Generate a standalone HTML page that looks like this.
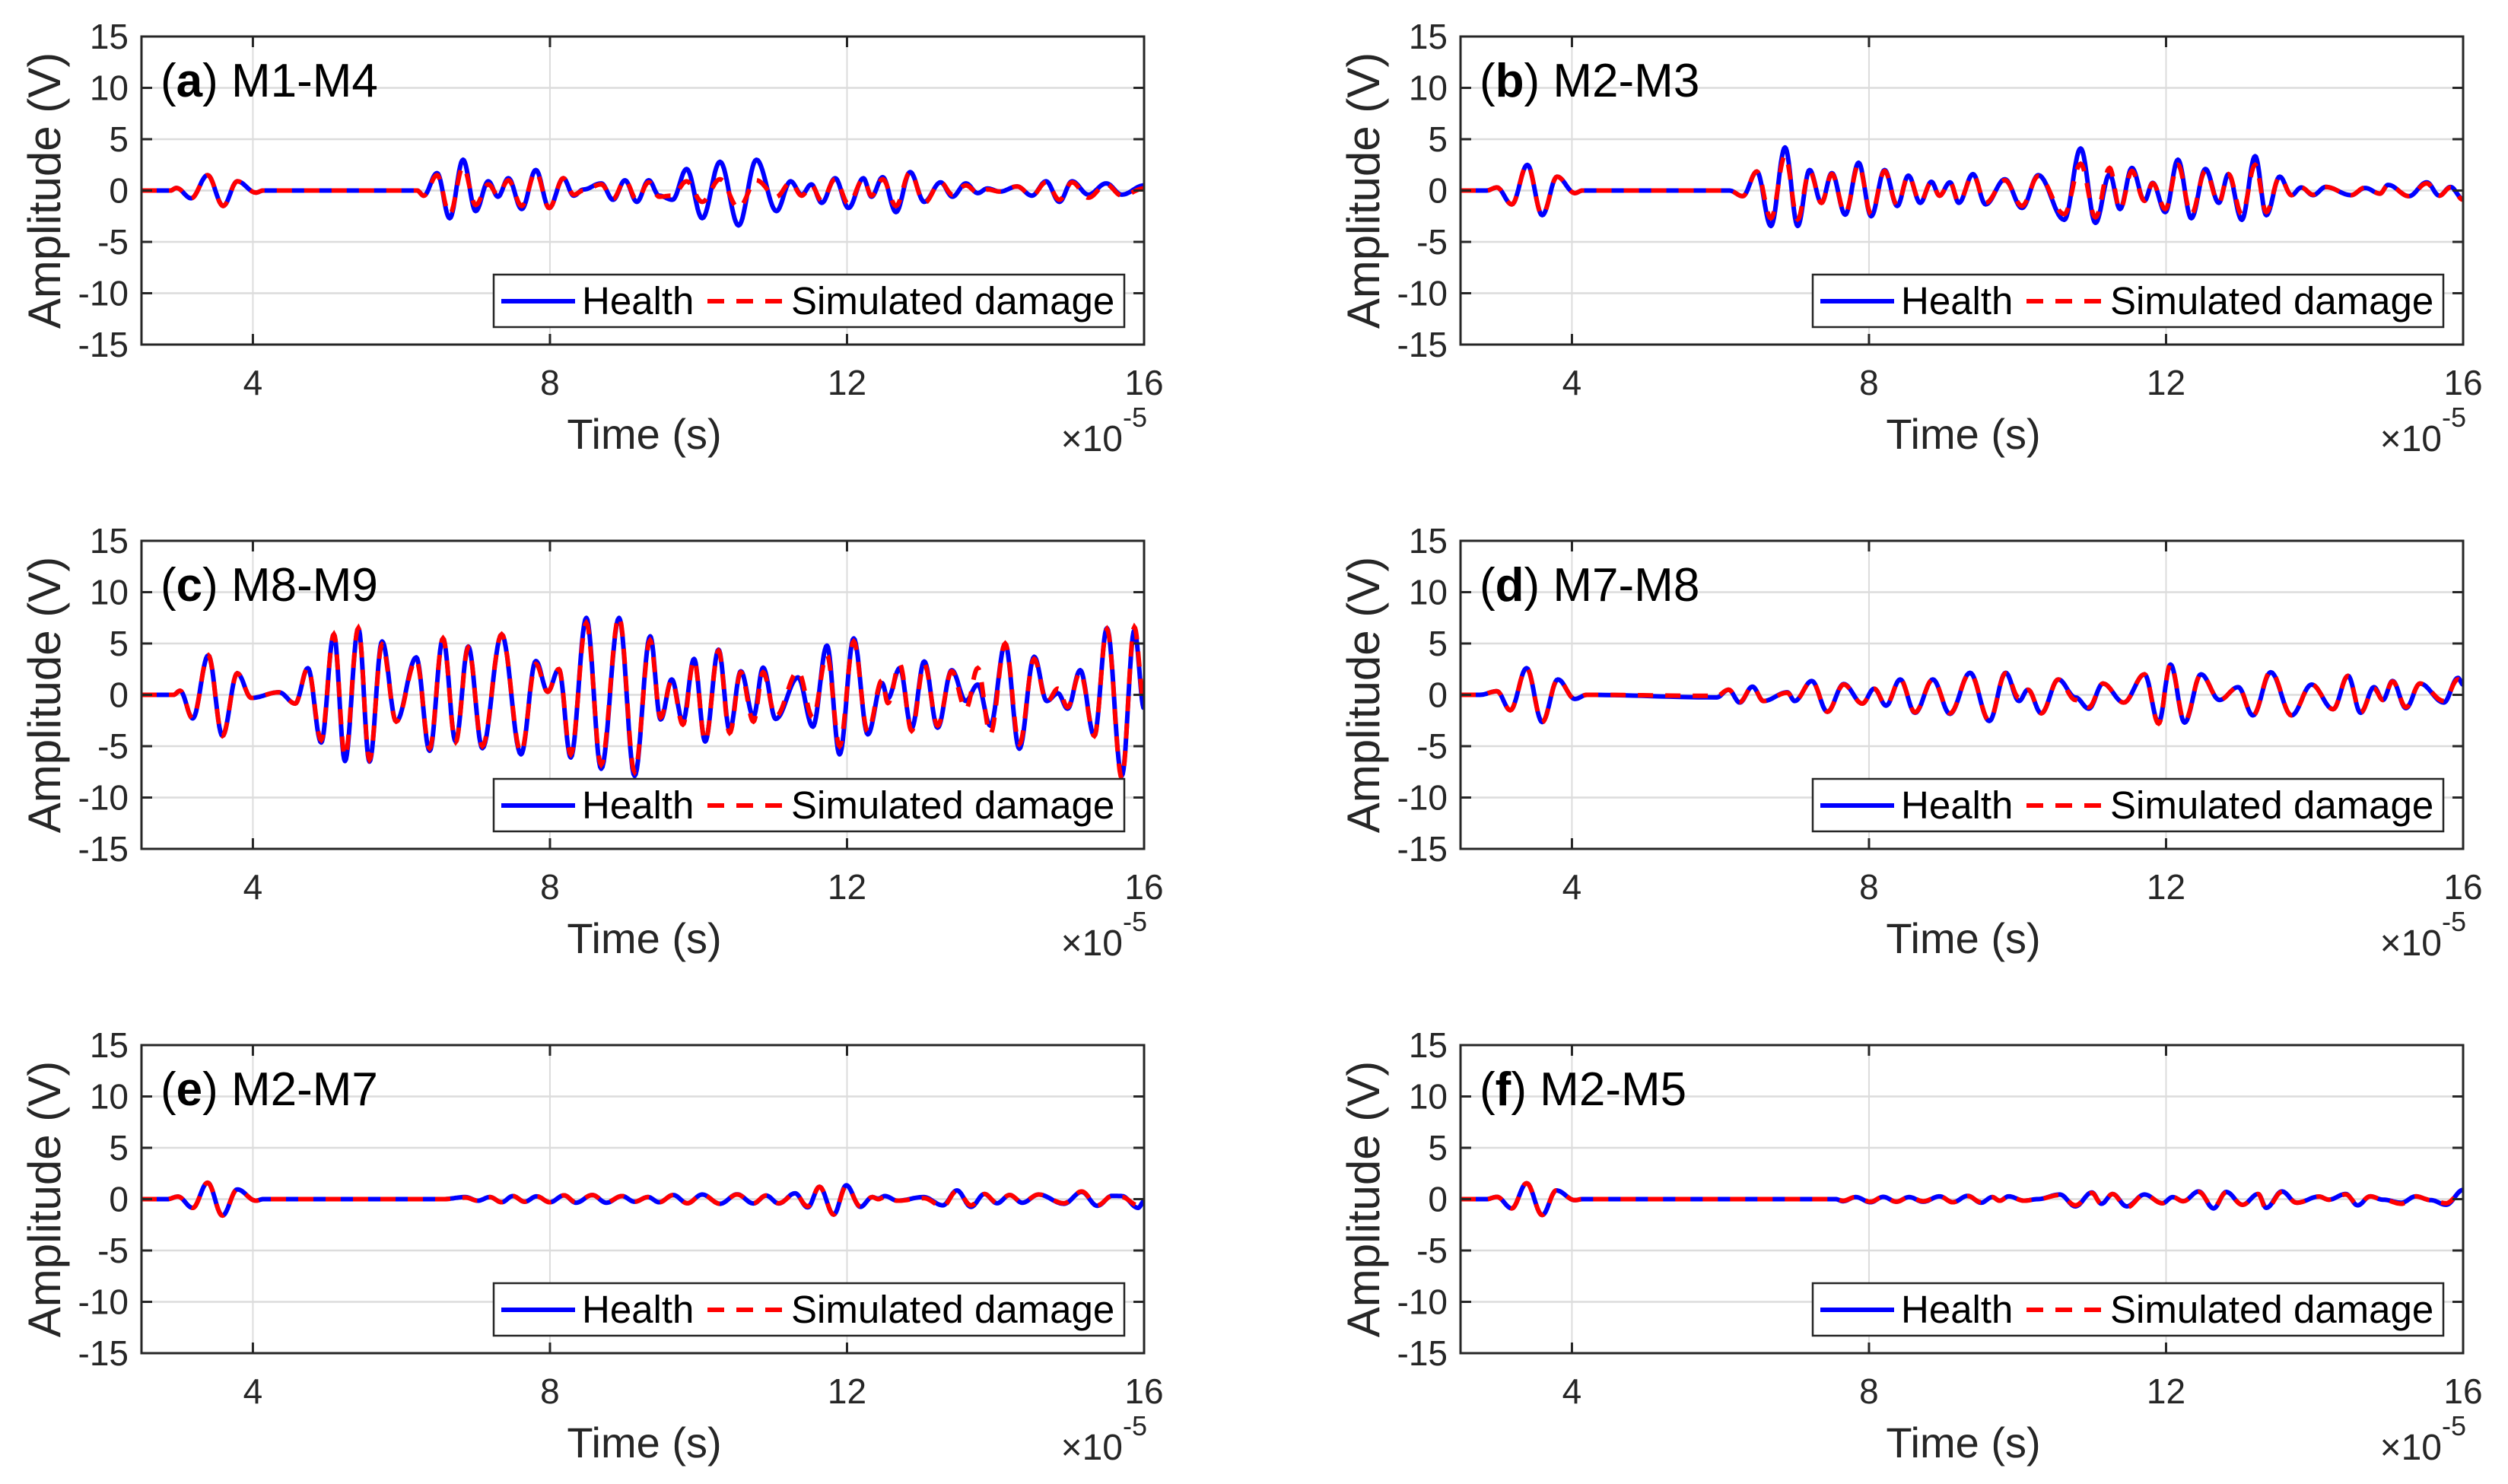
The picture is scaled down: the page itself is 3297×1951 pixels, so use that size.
<!DOCTYPE html>
<html><head><meta charset="utf-8"><style>
html,body{margin:0;padding:0;background:#fff;}
svg{display:block;font-family:"Liberation Sans",Arial,sans-serif;}
</style></head><body>
<svg id="fig" xmlns="http://www.w3.org/2000/svg" width="3297" height="1951" viewBox="0 0 3297 1951">
<rect x="0" y="0" width="3297" height="1951" fill="#fff"/>
</svg>
<script>
// ---- data (time in units of 1e-5 s, amplitude in V) ----
const panelLabels = ["a","b","c","d","e","f"];
const panelNames = ["M1-M4","M2-M3","M8-M9","M7-M8","M2-M7","M2-M5"];
const yTicks = [15,10,5,0,-5,-10,-15];
const xTicks = [4,8,12,16];
const legendLabels = ["Health","Simulated damage"];

const tA=[2.5,2.89,2.97,3.17,3.39,3.60,3.79,4.04,4.14,6.21,6.30,6.48,6.65,6.83,7.00,7.17,7.30,7.44,7.62,7.81,7.99,8.18,8.32,8.45,8.69,8.85,9.01,9.17,9.33,9.47,9.65,9.84,10.05,10.29,10.54,10.78,11.05,11.24,11.39,11.52,11.66,11.84,12.02,12.22,12.33,12.48,12.66,12.85,13.04,13.26,13.42,13.60,13.76,13.89,14.06,14.29,14.49,14.68,14.86,15.03,15.25,15.49,15.70,16.0];
const hA=[0,0,0.25,-0.75,1.5,-1.5,0.9,-0.2,0,0,-0.5,1.7,-2.7,3.0,-2.0,0.9,-0.6,1.2,-1.8,2.0,-1.7,1.2,-0.5,0.1,0.7,-0.9,1.0,-1.1,1.0,-0.5,-0.9,2.1,-2.7,2.8,-3.4,3.0,-2.0,0.9,-0.4,0.6,-1.2,1.2,-1.7,1.2,-0.6,1.3,-2.1,1.8,-1.1,0.8,-0.6,0.7,-0.25,0.2,-0.1,0.4,-0.5,0.9,-1.1,0.9,-0.4,0.7,-0.4,0.5];
const dA=[0,0,0.25,-0.75,1.5,-1.5,0.9,-0.2,0,0,-0.5,1.5,-2.3,2.3,-1.4,0.6,-0.4,1.0,-1.5,1.8,-1.7,1.2,-0.4,0,0.6,-0.8,1.0,-0.9,0.8,-0.6,-0.5,0.9,-1.1,1.1,-1.7,1.0,-0.6,0.8,-0.5,0.5,-1.0,1.1,-1.3,1.1,-0.5,1.1,-1.5,1.8,-1.2,0.8,-0.4,0.5,-0.2,0.1,-0.1,0.4,-0.5,0.8,-0.9,0.8,-0.7,0.6,-0.5,0.2];

const tB=[2.5,2.85,2.99,3.19,3.40,3.60,3.80,4.04,4.14,6.12,6.30,6.49,6.68,6.87,7.04,7.20,7.36,7.50,7.68,7.86,8.03,8.21,8.38,8.53,8.69,8.84,8.95,9.09,9.21,9.40,9.57,9.83,10.06,10.28,10.63,10.85,11.05,11.24,11.38,11.54,11.71,11.82,11.99,12.16,12.34,12.53,12.71,12.84,13.02,13.20,13.35,13.53,13.69,13.82,13.98,14.15,14.49,14.68,14.88,14.99,15.27,15.51,15.68,15.83,16.0];
const hB=[0,0,0.3,-1.35,2.5,-2.4,1.35,-0.25,0,0,-0.55,1.85,-3.45,4.2,-3.45,2.0,-1.2,1.7,-2.35,2.7,-2.5,2.0,-1.5,1.45,-1.2,0.85,-0.5,0.8,-1.2,1.6,-1.35,1.1,-1.7,1.5,-2.85,4.1,-3.15,1.6,-1.8,2.2,-1.0,0.75,-2.1,3.0,-2.7,2.1,-1.2,1.6,-2.85,3.35,-2.4,1.35,-0.45,0.3,-0.45,0.35,-0.45,0.25,-0.3,0.55,-0.55,0.8,-0.5,0.35,-0.85];
const dB=[0,0,0.3,-1.35,2.5,-2.4,1.35,-0.25,0,0,-0.55,1.85,-2.7,3.4,-2.8,1.9,-1.2,1.6,-2.2,2.5,-2.3,1.9,-1.4,1.4,-1.1,0.8,-0.5,0.8,-1.1,1.5,-1.2,1.0,-1.5,1.4,-2.3,2.6,-2.6,2.2,-1.85,1.9,-1.0,0.7,-1.8,2.5,-2.3,1.9,-1.2,1.6,-2.3,2.5,-2.1,1.3,-0.45,0.3,-0.4,0.35,-0.45,0.3,-0.3,0.55,-0.55,0.7,-0.5,0.3,-0.9];

const tC=[2.5,2.93,3.02,3.19,3.40,3.59,3.79,3.98,4.35,4.57,4.74,4.92,5.09,5.24,5.42,5.57,5.74,5.93,6.20,6.38,6.56,6.73,6.90,7.09,7.35,7.61,7.81,7.97,8.12,8.28,8.49,8.69,8.93,9.14,9.35,9.49,9.64,9.79,9.94,10.09,10.27,10.42,10.57,10.74,10.87,11.04,11.34,11.54,11.73,11.90,12.09,12.28,12.47,12.55,12.71,12.87,13.04,13.22,13.41,13.60,13.76,13.93,14.13,14.32,14.52,14.69,14.84,14.97,15.14,15.33,15.50,15.70,15.87,16.0];
const hC=[0,0,0.4,-2.3,3.85,-4.0,2.1,-0.3,0.25,-0.85,2.6,-4.65,5.9,-6.45,6.5,-6.5,5.2,-2.6,3.65,-5.45,5.5,-4.55,4.7,-5.2,5.9,-5.8,3.3,0.3,2.5,-6.1,7.5,-7.2,7.5,-7.9,5.7,-2.4,1.5,-2.6,3.5,-4.55,4.4,-3.45,2.3,-2.1,2.65,-2.35,1.7,-3.1,4.8,-5.8,5.5,-3.85,1.15,-0.35,2.6,-3.25,3.25,-3.2,2.4,-0.6,1.0,-3.0,4.95,-5.25,3.7,-0.6,0.15,-1.35,2.4,-4.0,6.5,-7.9,6.3,-1.35];
const dC=[0,0,0.4,-2.3,3.85,-4.0,2.1,-0.3,0.25,-0.85,2.6,-4.4,5.9,-6.0,6.5,-6.3,4.9,-2.6,3.4,-5.2,5.5,-4.6,4.6,-5.0,5.9,-5.6,3.0,0.3,2.5,-5.8,7.0,-6.8,7.6,-7.5,5.3,-2.2,1.4,-2.9,3.4,-4.5,4.3,-3.7,2.2,-2.6,2.2,-2.1,2.3,-2.2,3.9,-5.0,5.2,-3.6,1.4,-0.8,3.0,-3.5,3.0,-3.0,2.3,-1.4,2.6,-3.8,5.0,-4.8,3.5,-0.7,0.6,-1.2,2.2,-4.0,6.4,-8.1,6.6,-0.8];

const tD=[2.5,2.76,2.99,3.17,3.39,3.60,3.81,4.04,4.2,5.95,6.11,6.26,6.43,6.58,6.90,7.00,7.23,7.44,7.66,7.91,8.07,8.23,8.42,8.62,8.86,9.09,9.36,9.62,9.84,10.02,10.14,10.32,10.55,10.78,10.96,11.15,11.43,11.71,11.90,12.06,12.25,12.47,12.72,12.97,13.17,13.41,13.69,13.96,14.25,14.45,14.62,14.80,14.92,15.05,15.23,15.42,15.74,15.93,16.0];
const hD=[0,0,0.35,-1.5,2.6,-2.65,1.5,-0.4,0,-0.25,0.5,-0.75,0.8,-0.6,0.25,-0.6,1.35,-1.65,1.05,-0.85,0.6,-1.05,1.5,-1.75,1.5,-1.85,2.15,-2.55,2.15,-0.6,0.5,-1.8,1.5,-0.25,-1.35,1.1,-0.75,2.0,-2.7,2.95,-2.7,2.0,-0.5,0.75,-2.0,2.2,-2.0,1.0,-1.4,1.85,-1.75,0.75,-0.5,1.35,-1.3,1.1,-0.75,1.65,1.0];
const dD=[0,0,0.35,-1.5,2.6,-2.65,1.5,-0.4,0,-0.1,0.5,-0.7,0.8,-0.6,0.2,-0.6,1.35,-1.65,1.0,-0.85,0.6,-1.0,1.5,-1.7,1.5,-1.8,2.1,-2.5,2.1,-0.3,0.5,-1.8,1.5,-0.5,-1.2,1.1,-0.75,2.0,-2.8,3.0,-2.6,2.0,-0.5,0.75,-2.0,2.3,-2.0,1.0,-1.4,1.85,-1.7,0.6,-0.5,1.3,-1.2,1.1,-0.6,1.5,1.2];

const tE=[2.5,2.85,2.99,3.19,3.39,3.59,3.79,4.04,4.14,6.56,6.86,7.03,7.19,7.35,7.50,7.66,7.82,8.00,8.19,8.35,8.57,8.76,8.97,9.14,9.32,9.47,9.66,9.85,10.05,10.29,10.52,10.74,10.91,11.08,11.30,11.47,11.63,11.82,11.99,12.18,12.34,12.42,12.51,12.68,13.03,13.29,13.48,13.67,13.85,14.02,14.19,14.36,14.58,14.92,15.16,15.37,15.57,15.70,15.92,16.0];
const hE=[0,0,0.25,-0.85,1.6,-1.6,0.95,-0.15,0,0,0.2,-0.15,0.2,-0.3,0.3,-0.25,0.27,-0.3,0.37,-0.35,0.4,-0.35,0.3,-0.25,0.2,-0.3,0.4,-0.4,0.45,-0.45,0.47,-0.42,0.35,-0.42,0.57,-0.8,1.2,-1.5,1.35,-0.75,0.2,0.05,0.3,-0.15,0.2,-0.6,0.85,-0.75,0.5,-0.4,0.4,-0.35,0.45,-0.45,0.7,-0.65,0.32,0.3,-0.85,-0.2];
const dE=[0,0,0.25,-0.85,1.6,-1.6,0.95,-0.15,0,0,0.15,-0.15,0.2,-0.3,0.3,-0.25,0.27,-0.3,0.37,-0.3,0.4,-0.3,0.3,-0.25,0.2,-0.3,0.4,-0.4,0.45,-0.45,0.45,-0.4,0.35,-0.4,0.5,-0.7,1.2,-1.5,1.25,-0.7,0.2,0.0,0.2,-0.15,0.1,-0.7,0.8,-0.6,0.5,-0.35,0.4,-0.3,0.45,-0.4,0.75,-0.6,0.3,0.2,-0.6,0.1];

const tF=[2.5,2.85,2.99,3.19,3.39,3.60,3.79,4.04,4.14,7.55,7.65,7.82,8.02,8.19,8.37,8.54,8.73,8.95,9.13,9.33,9.51,9.66,9.76,9.88,10.09,10.27,10.57,10.78,11.00,11.13,11.28,11.47,11.71,11.95,12.09,12.23,12.44,12.64,12.81,13.03,13.24,13.35,13.56,13.76,14.06,14.19,14.42,14.58,14.75,14.92,15.17,15.36,15.57,15.77,16.0];
const hF=[0,0,0.22,-0.9,1.55,-1.55,0.85,-0.1,0,0,-0.2,0.2,-0.3,0.22,-0.25,0.2,-0.25,0.27,-0.3,0.32,-0.35,0.2,-0.15,0.27,-0.15,0,0.45,-0.7,0.65,-0.45,0.5,-0.7,0.45,-0.4,0.2,-0.2,0.75,-0.9,0.7,-0.55,0.5,-0.85,0.75,-0.35,0.25,-0.05,0.5,-0.6,0.27,-0.05,-0.35,0.27,-0.1,-0.55,0.9];
const dF=[0,0,0.22,-0.9,1.55,-1.55,0.85,-0.1,0,0,-0.15,0.2,-0.25,0.22,-0.25,0.2,-0.2,0.27,-0.3,0.3,-0.3,0.2,-0.15,0.25,-0.15,0,0.4,-0.6,0.6,-0.45,0.5,-0.8,0.45,-0.4,0.2,-0.2,0.7,-0.8,0.65,-0.55,0.5,-0.95,0.7,-0.35,0.25,-0.05,0.45,-0.5,0.27,-0.05,-0.45,0.27,-0.1,-0.4,0.8];

const seriesT=[tA,tB,tC,tD,tE,tF];
const seriesH=[hA,hB,hC,hD,hE,hF];
const seriesD=[dA,dB,dC,dD,dE,dF];

// ---- layout ----
const NS="http://www.w3.org/2000/svg";
const svg=document.getElementById('fig');
const PX=[186,1920], PY=[48,711,1374], W=1318, H=405;
const XMIN=2.5, XMAX=16, YMIN=-15, YMAX=15;
function mk(tag,attrs,parent){const e=document.createElementNS(NS,tag);for(const k in attrs)e.setAttribute(k,attrs[k]);(parent||svg).appendChild(e);return e;}

const defs=mk('defs',{});

function pathFor(ts,vs,sx,sy){
  let d='M'+sx(ts[0]).toFixed(1)+','+sy(vs[0]).toFixed(1);
  for(let i=0;i<ts.length-1;i++){
    const n=14;
    for(let k=1;k<=n;k++){
      const s=k/n, w=(1-Math.cos(Math.PI*s))/2;
      const t=ts[i]+(ts[i+1]-ts[i])*s, v=vs[i]+(vs[i+1]-vs[i])*w;
      d+='L'+sx(t).toFixed(1)+','+sy(v).toFixed(1);
    }
  }
  return d;
}

for(let p=0;p<6;p++){
  const px=PX[p%2], py=PY[Math.floor(p/2)];
  const sx=t=>px+(t-XMIN)/(XMAX-XMIN)*W;
  const sy=v=>py+(YMAX-v)/(YMAX-YMIN)*H;
  const g=mk('g',{});
  
  

  const cp=mk('clipPath',{id:'clip'+p},defs);
  mk('rect',{x:px,y:py,width:W,height:H},cp);

  yTicks.forEach(v=>{
    if(v===15||v===-15)return;
    const l=mk('line',{x1:px,x2:px+W,y1:sy(v),y2:sy(v),stroke:'#dcdcdc','stroke-width':2.5},g);
    
    
  });
  xTicks.forEach(t=>{
    if(t>=XMAX)return;
    const l=mk('line',{x1:sx(t),x2:sx(t),y1:py,y2:py+H,stroke:'#dcdcdc','stroke-width':2},g);
    
    
  });

  const hp=mk('path',{d:pathFor(seriesT[p],seriesH[p],sx,sy),fill:'none',stroke:'#0000ff','stroke-width':6,'stroke-linejoin':'round','clip-path':'url(#clip'+p+')'},g);
  
  
  const dp=mk('path',{d:pathFor(seriesT[p],seriesD[p],sx,sy),fill:'none',stroke:'#ff0000','stroke-width':6,'stroke-dasharray':'20 16','clip-path':'url(#clip'+p+')'},g);
  
  

  const box=mk('rect',{x:px,y:py,width:W,height:H,fill:'none',stroke:'#262626','stroke-width':3},g);
  
  
  yTicks.forEach(v=>{
    mk('line',{x1:px,x2:px+14,y1:sy(v),y2:sy(v),stroke:'#262626','stroke-width':3},g);
    mk('line',{x1:px+W-14,x2:px+W,y1:sy(v),y2:sy(v),stroke:'#262626','stroke-width':3},g);
    const tl=mk('text',{x:px-17,y:sy(v)+16,'text-anchor':'end','font-size':46,fill:'#262626'},g);
    tl.textContent=String(v);
    
    
  });
  xTicks.forEach(t=>{
    mk('line',{x1:sx(t),x2:sx(t),y1:py+H-14,y2:py+H,stroke:'#262626','stroke-width':3},g);
    mk('line',{x1:sx(t),x2:sx(t),y1:py,y2:py+14,stroke:'#262626','stroke-width':3},g);
    const tl=mk('text',{x:sx(t),y:py+H+66,'text-anchor':'middle','font-size':46,fill:'#262626'},g);
    tl.textContent=String(t);
    
    
  });

  const tt=mk('text',{x:px+25,y:py+79,'font-size':62,fill:'#000'},g);
  
  
  const t1=mk('tspan',{},tt); t1.textContent='(';
  const t2=mk('tspan',{'font-weight':'bold'},tt); t2.textContent=panelLabels[p];
  const t3=mk('tspan',{},tt); t3.textContent=') '+panelNames[p];

  const xl=mk('text',{x:px+661,y:py+H+137,'text-anchor':'middle','font-size':56,fill:'#262626'},g);
  xl.textContent='Time (s)';
  
  
  const ex=mk('text',{x:px+W+4,y:py+H+140,'text-anchor':'end','font-size':48,fill:'#262626'},g);
  
  
  const e1=mk('tspan',{},ex); e1.textContent='\u00d710';
  const e2=mk('tspan',{'font-size':36,dy:-32},ex); e2.textContent='-5';
  const yx=px-107, yy=py+H/2;
  const yl=mk('text',{x:yx,y:yy,'text-anchor':'middle','font-size':60,fill:'#262626',transform:'rotate(-90 '+yx+' '+yy+')'},g);
  yl.textContent='Amplitude (V)';
  
  

  const lx=px+W-26-829, ly=py+H-23-69;
  const lg=mk('g',{},g);
  
  
  mk('rect',{x:lx,y:ly,width:829,height:69,fill:'#fff',stroke:'#262626','stroke-width':2.5},lg);
  mk('line',{x1:lx+10,x2:lx+107,y1:ly+35,y2:ly+35,stroke:'#0000ff','stroke-width':6},lg);
  const lt1=mk('text',{x:lx+116,y:ly+52,'font-size':51,fill:'#000'},lg);
  lt1.textContent=legendLabels[0];
  
  
  mk('line',{x1:lx+281,x2:lx+382,y1:ly+35,y2:ly+35,stroke:'#ff0000','stroke-width':6,'stroke-dasharray':'22 16'},lg);
  const lt2=mk('text',{x:lx+391,y:ly+52,'font-size':51,fill:'#000'},lg);
  lt2.textContent=legendLabels[1];
  
  
}
</script>
</body></html>
